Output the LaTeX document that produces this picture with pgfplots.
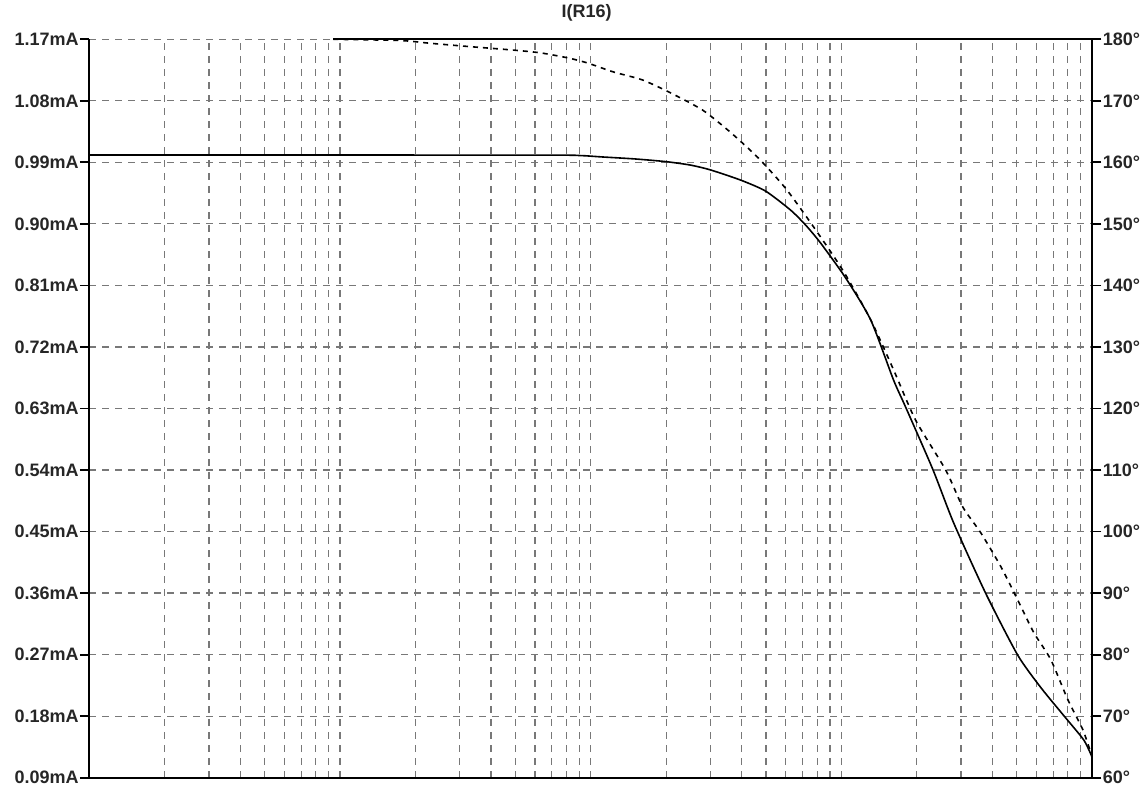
\documentclass[border=0pt]{standalone}
\usepackage{fontspec}
\setmainfont{Liberation Sans}
\usepackage{pgfplots}
\pgfplotsset{compat=1.18}
\definecolor{gridgray}{RGB}{120,120,120}
\begin{document}
\begin{tikzpicture}
\pgfplotsset{
  every axis/.append style={
    scale only axis, width=501.4pt, height=369.2pt,
    at={(0,0)}, anchor=south west,
    xmode=log, xmin=1, xmax=10000,
    font=\fontsize{9}{10}\selectfont\bfseries,
    tick align=outside,
    major tick length=4.7pt,
    minor tick length=0pt,
    axis line style={line width=0.9pt, black},
    ytick style={line width=0.9pt, black},
    xtick style={draw=none},
  }
}
\begin{axis}[
  axis x line*=bottom, axis y line*=left,
  ymin=0.09, ymax=1.17,
  ytick={0.09,0.18,0.27,0.36,0.45,0.54,0.63,0.72,0.81,0.90,0.99,1.08,1.17},
  yticklabels={0.09mA,0.18mA,0.27mA,0.36mA,0.45mA,0.54mA,0.63mA,0.72mA,0.81mA,0.90mA,0.99mA,1.08mA,1.17mA},
  yticklabel style={inner sep=0.5pt, text=black!85},
  xtick={1,10,100,1000,10000},
  minor xtick={2,3,4,5,6,7,8,9,20,30,40,50,60,70,80,90,200,300,400,500,600,700,800,900,2000,3000,4000,5000,6000,7000,8000,9000},
  xticklabels={},
  xmajorgrids, xminorgrids, ymajorgrids,
  major grid style={gridgray, line width=0.6pt, dash pattern=on 3.5pt off 3pt},
  minor grid style={gridgray, line width=0.6pt, dash pattern=on 3.5pt off 3pt},
  clip=false,
]
\addplot[black, line width=0.8pt, smooth, tension=0.4] coordinates {
(1,1.0008) (60,1.0006) (90,1.0000) (110,0.9980) (150,0.9950) (200,0.9910)
(250,0.9860) (300,0.9790) (395.4,0.9642) (497.7,0.9481) (626.6,0.9203)
(719.4,0.8984) (826.0,0.8720) (1040,0.8209) (1309,0.7594) (1614,0.6717)
(1803,0.6322) (2312,0.5415) (2805,0.4625) (3758,0.3601) (5047,0.2694)
(6266,0.2211) (7852,0.1773) (9268,0.1450) (10000,0.1200)
};
\node[text=black!85, inner sep=0pt] at (rel axis cs:0.496,1) [yshift=13.4pt] {I(R16)};
\end{axis}
\begin{axis}[
  axis x line=none, axis y line*=right,
  ymin=60, ymax=180,
  ytick={60,70,80,90,100,110,120,130,140,150,160,170,180},
  yticklabels={60°,70°,80°,90°,100°,110°,120°,130°,140°,150°,160°,170°,180°},
  yticklabel style={inner sep=0.5pt, text=black!85},
  clip=false,
]
\addplot[black, line width=0.9pt] coordinates {(9.40,180) (10000,180)};
\addplot[black, line width=0.8pt, dash pattern=on 2.5pt off 2.5pt, smooth, tension=0.4] coordinates {
(9.40,180) (17.38,179.8) (22.91,179.35) (33.11,178.8) (48.64,178.26) (62.95,177.8)
(81.47,176.96) (97.05,176.15) (123.0,174.7) (160.7,173.4) (208.0,171.3)
(279.3,168.5) (360.6,164.9) (466.6,160.7) (598.4,155.8) (732.8,150.9)
(881.0,146.2) (1040,141.7) (1309,134.4) (1614,126.3) (1977,118.1)
(2606,110.0) (3048,104.0) (3597,99.8) (4325,94.3) (5047,88.9) (5848,83.6)
(6839,79.2) (7998,72.7) (9183,67.8) (9886,64.0)
};
\end{axis}
\pgfresetboundingbox
\path[use as bounding box] (-44.65pt,-6.15pt) rectangle (527.35pt,388.85pt);
\end{tikzpicture}
\end{document}
